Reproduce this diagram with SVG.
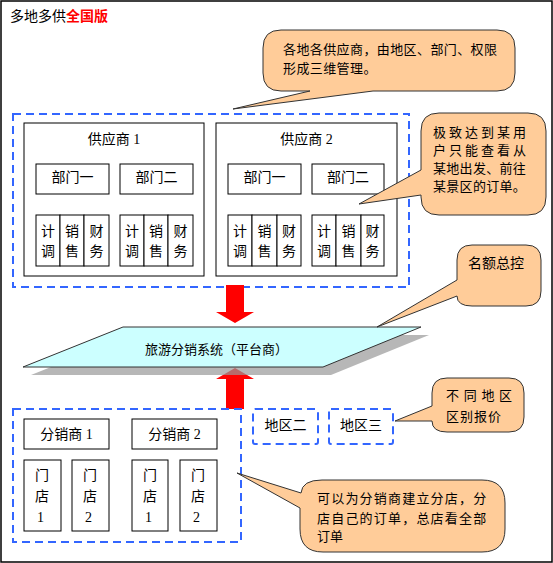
<svg xmlns="http://www.w3.org/2000/svg" width="553" height="563" viewBox="0 0 553 563">
<style>
text{font-family:"Liberation Serif","Noto Sans CJK SC",serif;font-size:14px;fill:#000}
.cjk{font-family:"Noto Sans CJK SC","Liberation Sans",sans-serif}
.c13{font-family:"Noto Sans CJK SC","Liberation Sans",sans-serif;font-size:13px}
.mid{text-anchor:middle}
.box{fill:#fff;stroke:#000;stroke-width:1}
.dash{fill:none;stroke:#3366ff;stroke-width:2;stroke-dasharray:8 5}
.call{fill:#ffcc99;stroke:#333;stroke-width:1}
.arrow{fill:#ff0000}
</style>
<rect x="1" y="1" width="551" height="561" fill="#fff" stroke="#000" stroke-width="1.5"/>
<text x="10" y="21" class="cjk">多地多供<tspan fill="#ff0000" font-weight="bold">全国版</tspan></text>

<g id="suppliers">
<rect class="dash" x="13" y="114" width="396" height="173"/>
</g>
<g id="supplier1">
<rect class="box" x="24" y="123" width="180" height="153"/>
<text x="114" y="144" class="mid">供应商 1</text>
<rect class="box" x="36" y="164" width="73" height="30"/>
<text x="72.5" y="182" class="mid cjk">部门一</text>
<rect class="box" x="120" y="164" width="73" height="30"/>
<text x="156.5" y="182" class="mid cjk">部门二</text>
<rect class="box" x="36" y="215" width="24" height="51"/>
<rect class="box" x="60" y="215" width="24" height="51"/>
<rect class="box" x="84" y="215" width="25" height="51"/>
<rect class="box" x="120" y="215" width="24" height="51"/>
<rect class="box" x="144" y="215" width="24" height="51"/>
<rect class="box" x="168" y="215" width="25" height="51"/>
<g class="cjk">
<text x="48" y="236" class="mid cjk">计</text><text x="48" y="256" class="mid cjk">调</text>
<text x="72" y="236" class="mid cjk">销</text><text x="72" y="256" class="mid cjk">售</text>
<text x="96.5" y="236" class="mid cjk">财</text><text x="96.5" y="256" class="mid cjk">务</text>
<text x="132" y="236" class="mid cjk">计</text><text x="132" y="256" class="mid cjk">调</text>
<text x="156" y="236" class="mid cjk">销</text><text x="156" y="256" class="mid cjk">售</text>
<text x="180.5" y="236" class="mid cjk">财</text><text x="180.5" y="256" class="mid cjk">务</text>
</g>
</g>
<g id="supplier2">
<rect class="box" x="216" y="123" width="181" height="153"/>
<text x="306.5" y="144" class="mid">供应商 2</text>
<rect class="box" x="228" y="164" width="73" height="30"/>
<text x="264.5" y="182" class="mid cjk">部门一</text>
<rect class="box" x="312" y="164" width="72" height="30"/>
<text x="348" y="182" class="mid cjk">部门二</text>
<rect class="box" x="228" y="215" width="24" height="51"/>
<rect class="box" x="252" y="215" width="25" height="51"/>
<rect class="box" x="277" y="215" width="24" height="51"/>
<rect class="box" x="312" y="215" width="24" height="51"/>
<rect class="box" x="336" y="215" width="25" height="51"/>
<rect class="box" x="361" y="215" width="23" height="51"/>
<text x="240" y="236" class="mid cjk">计</text><text x="240" y="256" class="mid cjk">调</text>
<text x="264.5" y="236" class="mid cjk">销</text><text x="264.5" y="256" class="mid cjk">售</text>
<text x="289" y="236" class="mid cjk">财</text><text x="289" y="256" class="mid cjk">务</text>
<text x="324" y="236" class="mid cjk">计</text><text x="324" y="256" class="mid cjk">调</text>
<text x="348.5" y="236" class="mid cjk">销</text><text x="348.5" y="256" class="mid cjk">售</text>
<text x="372.5" y="236" class="mid cjk">财</text><text x="372.5" y="256" class="mid cjk">务</text>
</g>

<g id="connectors">
<path class="arrow" d="M226,285 H244 V312 H254 L235,323 L216,312 H226 Z"/>
<path class="arrow" d="M235,368 L254,379 H244 V409 H226 V379 H216 Z"/>
</g>

<g id="platform">
<path d="M131,335 H429 L331,375 H31 Z" fill="#999" fill-opacity="0.7"/>
<path d="M123,327 H421 L323,367 H23 Z" fill="#ccffff" stroke="#333" stroke-width="1"/>
<text x="145" y="354" class="c13">旅游分销系统（平台商）</text>
</g>

<g id="distributors">
<rect class="dash" x="13" y="409" width="228" height="133"/>
</g>
<g id="distributor1">
<rect class="box" x="24" y="419" width="85" height="30"/>
<text x="66.5" y="439" class="mid">分销商 1</text>
<rect class="box" x="24" y="460" width="37" height="71"/>
<text x="35" y="480">门</text><text x="35" y="501">店</text><text x="37" y="522">1</text>
<rect class="box" x="72" y="460" width="37" height="71"/>
<text x="83" y="480">门</text><text x="83" y="501">店</text><text x="85" y="522">2</text>
</g>
<g id="distributor2">
<rect class="box" x="132" y="419" width="85" height="30"/>
<text x="174.5" y="439" class="mid">分销商 2</text>
<rect class="box" x="132" y="460" width="36" height="71"/>
<text x="143" y="480">门</text><text x="143" y="501">店</text><text x="145" y="522">1</text>
<rect class="box" x="180" y="460" width="37" height="71"/>
<text x="191" y="480">门</text><text x="191" y="501">店</text><text x="193" y="522">2</text>
</g>

<g id="region2">
<rect class="dash" x="253" y="409" width="65" height="35" rx="2"/>
<text x="285.5" y="430" class="mid cjk">地区二</text>
</g>
<g id="region3">
<rect class="dash" x="329" y="409" width="64" height="35" rx="2"/>
<text x="361" y="430" class="mid cjk">地区三</text>
</g>

<g id="callout1">
<path class="call" d="M281,30 H497 Q515,30 515,48 V73 Q515,91 497,91 H373 L233,109 L310,91 H281 Q263,91 263,73 V48 Q263,30 281,30 Z"/>
<text x="283" y="54" class="c13" letter-spacing="0.4">各地各供应商，由地区、部门、权限</text>
<text x="283" y="73" class="c13" letter-spacing="0.4">形成三维管理。</text>
</g>
<g id="callout2">
<path class="call" d="M439,113 H528 Q546,113 546,131 V197 Q546,215 528,215 H439 Q421,215 421,197 V195 L359,204 L421,170 V131 Q421,113 439,113 Z"/>
<text x="433" y="137" class="c13" letter-spacing="3">极致达到某用</text>
<text x="433" y="155" class="c13" letter-spacing="3">户只能查看从</text>
<text x="433" y="173" class="c13" letter-spacing="0.3">某地出发、前往</text>
<text x="433" y="191" class="c13" letter-spacing="0.3">某景区的订单。</text>
</g>
<g id="callout3">
<path class="call" d="M472,245 H526 Q541,245 541,260 V291 Q541,306 526,306 H472 Q457,306 457,296 L377,327 L457,280 V260 Q457,245 472,245 Z"/>
<text x="468" y="268" class="cjk">名额总控</text>
</g>
<g id="callout4">
<path class="call" d="M447,378 H509 Q524,378 524,393 V417 Q524,432 509,432 H447 Q432,432 432,421 L395,421 L432,406 V393 Q432,378 447,378 Z"/>
<text x="446" y="400" class="c13" letter-spacing="4.7">不同地区</text>
<text x="446" y="421" class="c13" letter-spacing="1">区别报价</text>
</g>
<g id="callout5">
<path class="call" d="M322,480 H482 Q505,480 505,503 V529 Q505,552 482,552 H323 Q300,552 300,529 V508 L237,473 L301,493 Q302,480 322,480 Z"/>
<text x="317" y="503" class="c13" letter-spacing="1.2">可以为分销商建立分店，分</text>
<text x="317" y="523" class="c13" letter-spacing="1.2">店自己的订单，总店看全部</text>
<text x="317" y="541" class="c13">订单</text>
</g>
</svg>
